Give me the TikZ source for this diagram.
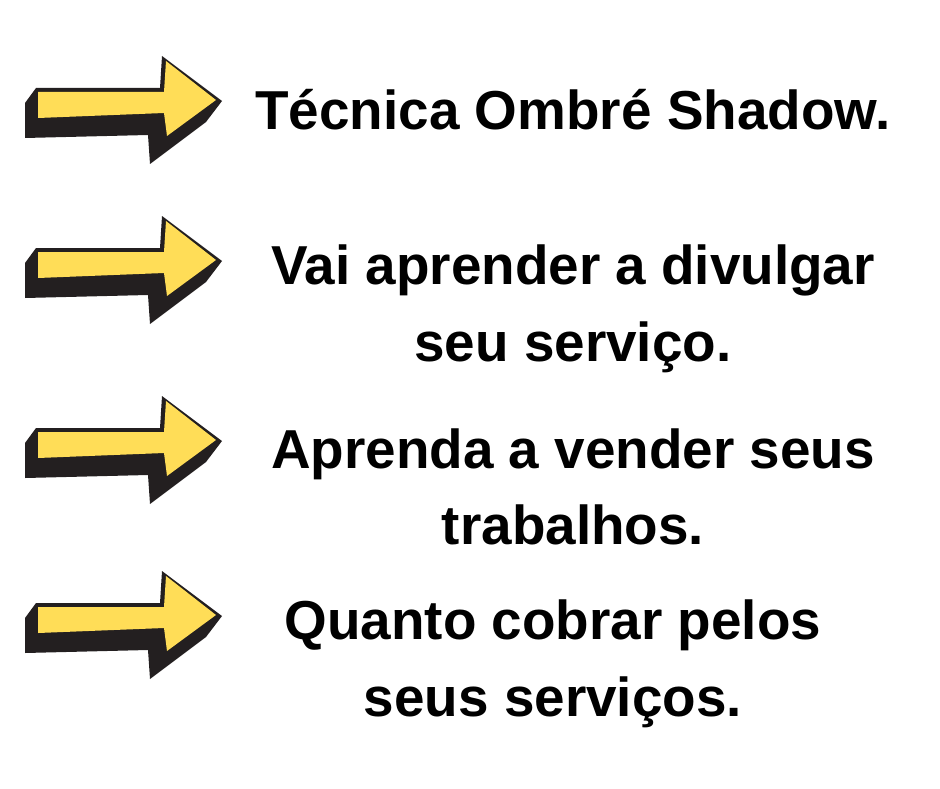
\documentclass[tikz,border=0pt]{standalone}
\usepackage{fontspec}
\setmainfont{Liberation Sans}
\definecolor{arrowyellow}{HTML}{FFDD57}
\definecolor{arrowdark}{HTML}{231F20}
\tikzset{
  label text/.style={font=\fontsize{15.6}{21.8}\selectfont\bfseries, align=center, inner sep=0pt},
  arrow/.pic={
    \fill[arrowdark] (36,88) -- (160,88) -- (162,56) -- (222,101) -- (206,122) -- (150,164)
      -- (148,135) -- (25,138) -- (25,103) -- cycle;
    \fill[arrowyellow] (38,92) -- (164,92) -- (166,61) -- (216,100) -- (167,136) -- (164,113)
      -- (38,118) -- cycle;
  }
}
\begin{document}
\begin{tikzpicture}[x=0.01cm,y=-0.01cm]
  \useasboundingbox (0,0) rectangle (940,788);
  \foreach \dy in {0,160,340,515} { \pic at (0,\dy) {arrow}; }
  \node[label text] (one) at (573,110) {Técnica Ombré Shadow.};
  \node[label text] (two) at (573,309) {Vai aprender a divulgar\\seu serviço.};
  \node[label text] (three) at (573,487) {Aprenda a vender seus\\trabalhos.};
  \node[label text] (four) at (553,664) {Quanto cobrar pelos\\seus serviços.};
\end{tikzpicture}
\end{document}
